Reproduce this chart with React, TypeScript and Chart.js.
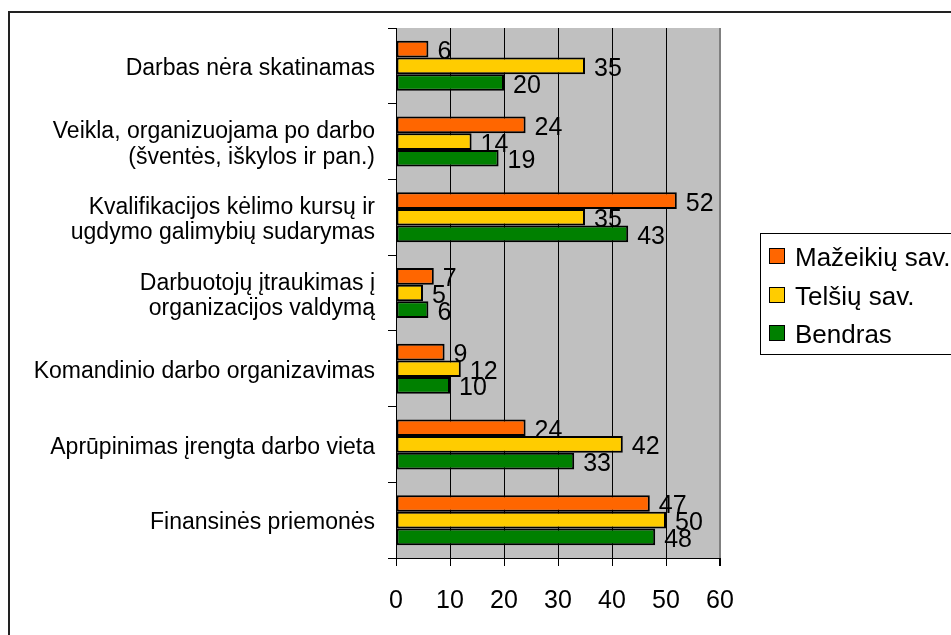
import React, { useEffect, useRef } from "react";
import { Chart, registerables } from "chart.js";

Chart.register(...registerables);

const categories: (string | string[])[] = [
  "Darbas nėra skatinamas",
  ["Veikla, organizuojama po darbo", "(šventės, iškylos ir pan.)"],
  ["Kvalifikacijos kėlimo kursų ir", "ugdymo galimybių sudarymas"],
  ["Darbuotojų įtraukimas į", "organizacijos valdymą"],
  "Komandinio darbo organizavimas",
  "Aprūpinimas įrengta darbo vieta",
  "Finansinės priemonės",
];

const seriesNames = ["Mažeikių sav.", "Telšių sav.", "Bendras"];
const mazeikiai = [6, 24, 52, 7, 9, 24, 47];
const telsiai = [35, 14, 35, 5, 12, 42, 50];
const bendras = [20, 19, 43, 6, 10, 33, 48];
const seriesColors = ["#FF6600", "#FFCC00", "#008000"];

const xMin = 0;
const xMax = 60;
const xStep = 10;

const FONT = "'Liberation Sans', Arial, sans-serif";

const decorPlugin = {
  id: "decor",
  beforeDraw(chart: any) {
    const { ctx, chartArea } = chart;
    ctx.save();
    ctx.fillStyle = "#ffffff";
    ctx.fillRect(0, 0, chart.width, chart.height);
    // outer frame
    ctx.strokeStyle = "#222";
    ctx.lineWidth = 2;
    ctx.strokeRect(9, 12, 2000, 2000);
    // plot background
    ctx.fillStyle = "#C0C0C0";
    ctx.fillRect(chartArea.left, chartArea.top, chartArea.right - chartArea.left, chartArea.bottom - chartArea.top);
    ctx.restore();
  },
  afterDatasetsDraw(chart: any) {
    const { ctx } = chart;
    ctx.save();
    ctx.font = `25px ${FONT}`;
    ctx.fillStyle = "#000";
    ctx.textAlign = "left";
    ctx.textBaseline = "alphabetic";
    chart.data.datasets.forEach((ds: any, di: number) => {
      const meta = chart.getDatasetMeta(di);
      meta.data.forEach((bar: any, i: number) => {
        ctx.fillText(String(ds.data[i]), bar.x + 9, bar.y + 10);
      });
    });
    ctx.restore();
  },
  afterDraw(chart: any) {
    const { ctx } = chart;
    ctx.save();
    ctx.strokeStyle = "#000";
    ctx.lineWidth = 1;
    ctx.strokeRect(760.5, 233.5, 400, 121);
    ctx.font = `26px ${FONT}`;
    ctx.textAlign = "left";
    ctx.textBaseline = "alphabetic";
    const baselines = [266, 305, 343];
    chart.data.datasets.forEach((ds: any, di: number) => {
      const b = baselines[di];
      ctx.fillStyle = ds.backgroundColor;
      ctx.fillRect(769, b - 18, 16, 16);
      ctx.strokeStyle = "#000";
      ctx.strokeRect(769.5, b - 17.5, 15, 15);
      ctx.fillStyle = "#000";
      ctx.fillText(ds.label, 795, b);
    });
    ctx.restore();
  },
};

export default function App() {
  const ref = useRef<HTMLCanvasElement | null>(null);
  useEffect(() => {
    if (!ref.current) return;
    const chart = new Chart(ref.current, {
      type: "bar",
      data: {
        labels: categories,
        datasets: [mazeikiai, telsiai, bendras].map((d, i) => ({
          label: seriesNames[i],
          data: d,
          backgroundColor: seriesColors[i],
          borderColor: "#000",
          borderWidth: 2,
          borderSkipped: false,
          barPercentage: 1,
          categoryPercentage: 0.66,
        })),
      },
      options: {
        indexAxis: "y",
        animation: false,
        responsive: true,
        maintainAspectRatio: false,
        layout: { padding: { left: 0, right: 231, top: 28, bottom: 0 } },
        plugins: { legend: { display: false }, tooltip: { enabled: false } },
        scales: {
          x: {
            min: xMin,
            max: xMax,
            ticks: {
              stepSize: xStep,
              color: "#000",
              font: { family: FONT, size: 25 },
              padding: 20,
            },
            grid: {
              color: (c: any) => (c.tick && c.tick.value === xMax ? "#808080" : "#000"),
              lineWidth: (c: any) => (c.tick && c.tick.value === xMax ? 2 : 1),
              tickColor: "#000",
              tickLength: 8,
              drawTicks: true,
            },
            border: { display: true, color: "#000", width: 1 },
            afterFit: (s: any) => {
              s.height = 77;
            },
          },
          y: {
            ticks: {
              color: "#000",
              font: { family: FONT, size: 23, lineHeight: 1.1 },
              padding: 13,
              labelOffset: 3,
            },
            grid: {
              drawOnChartArea: false,
              drawTicks: true,
              tickLength: 8,
              color: "#000",
              offset: true,
            },
            border: { display: true, color: "#000", width: 1 },
            afterFit: (s: any) => {
              s.width = 396;
            },
          },
        },
      },
      plugins: [decorPlugin],
    } as any);
    return () => chart.destroy();
  }, []);
  return (
    <div style={{ position: "absolute", left: 0, top: 0, width: 951, height: 635 }}>
      <canvas ref={ref} />
    </div>
  );
}
